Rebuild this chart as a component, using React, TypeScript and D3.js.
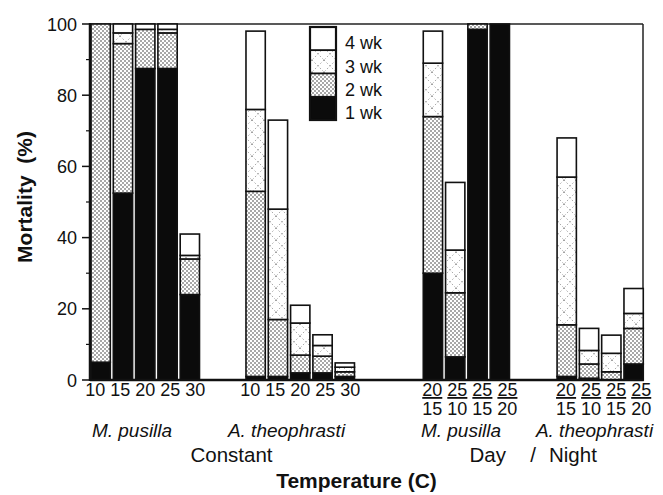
import React from "react";
import * as d3 from "d3";

// ---- data ----
const weekKeys = ["1 wk", "2 wk", "3 wk", "4 wk"];
const constantTemps = ["10", "15", "20", "25", "30"];
const dayTemps = ["20", "25", "25", "25"];
const nightTemps = ["15", "10", "15", "20"];
const speciesNames = ["M. pusilla", "A. theophrasti", "M. pusilla", "A. theophrasti"];
const regimeNames = ["Constant", "Day / Night"];
const yTicks = [0, 20, 40, 60, 80, 100];
const yMinorTicks = [10, 30, 50, 70, 90];

// order: Constant M.pusilla (10..30), Constant A.theophrasti (10..30),
// Day/Night M.pusilla (20/15,25/10,25/15,25/20), Day/Night A.theophrasti (same)
const wk1 = [5, 52.5, 87.5, 87.5, 24, 1, 1, 2, 2, 1, 30, 6.5, 98.5, 100, 1, 0.5, 0, 4.5];
const wk2 = [95, 42, 11, 10, 10, 52, 16, 5, 4.7, 1.3, 44, 18, 1.5, 0, 14.5, 4, 2.3, 10];
const wk3 = [0, 3, 0, 1, 1, 23, 31, 9, 3, 1.3, 15, 12, 0, 0, 41.5, 3.8, 5.2, 4.2];
const wk4 = [0, 2.5, 1.5, 1.5, 6, 22, 25, 5, 3, 1.2, 9, 19, 0, 0, 11, 6.2, 5.1, 7];

// ---- layout ----
const W = 663;
const H = 495;
const plot = { left: 90, right: 643, top: 24, bottom: 380 };
const groupStartSlot = [0, 6.95, 14.9, 20.9];
const groupSizes = [constantTemps.length, constantTemps.length, dayTemps.length, dayTemps.length];
const barW = 19.3;
const FONT = "'Liberation Sans', Arial, Helvetica, sans-serif";
const fills = ["#0b0b0b", "url(#pat2)", "url(#pat3)", "#ffffff"];

export default function App() {
  const y = d3.scaleLinear().domain([0, 100]).range([plot.bottom, plot.top]);
  const x = d3.scaleLinear().domain([0, 1]).range([91, 113.3]);

  const bars: { g: number; j: number; vals: number[] }[] = [];
  let k = 0;
  groupSizes.forEach((n, g) => {
    for (let j = 0; j < n; j++) {
      bars.push({ g, j, vals: [wk1[k], wk2[k], wk3[k], wk4[k]] });
      k++;
    }
  });
  const stack = d3.stack<number[]>().keys([0, 1, 2, 3] as any).value((d, key: any) => d[key]);
  const series = stack(bars.map((b) => b.vals));

  const barX = (i: number) => x(groupStartSlot[bars[i].g] + bars[i].j);

  const legendY = d3.scaleBand().domain(["4 wk", "3 wk", "2 wk", "1 wk"]).range([27, 120]);
  const legendFill: Record<string, string> = {
    [weekKeys[0]]: fills[0], [weekKeys[1]]: fills[1], [weekKeys[2]]: fills[2], [weekKeys[3]]: fills[3],
  };

  const groupCenter = (g: number) =>
    (x(groupStartSlot[g]) + x(groupStartSlot[g] + groupSizes[g] - 1) + barW) / 2;
  const speciesCenters = [132, 286.5, 461, 594.5];

  return (
    <svg width={W} height={H} style={{ position: "absolute", left: 0, top: 0, background: "#fff" }}
      fontFamily={FONT}>
      <defs>
        <pattern id="pat2" width={4} height={4} patternUnits="userSpaceOnUse">
          <rect width={4} height={4} fill="#fff" />
          <circle cx={1} cy={1} r={0.8} fill="#3a3a3a" />
          <circle cx={3} cy={3} r={0.8} fill="#3a3a3a" />
        </pattern>
        <pattern id="pat3" width={12} height={12} patternUnits="userSpaceOnUse">
          <rect width={12} height={12} fill="#fff" />
          <line x1={0} y1={0} x2={12} y2={12} stroke="#8a8a8a" strokeWidth={0.8} strokeDasharray="1.5 2.2" />
          <line x1={12} y1={0} x2={0} y2={12} stroke="#8a8a8a" strokeWidth={0.8} strokeDasharray="1.5 2.2" />
        </pattern>
      </defs>

      {/* frame */}
      <line x1={plot.left} x2={plot.right} y1={plot.top} y2={plot.top} stroke="#222" strokeWidth={1.5} />
      <line x1={plot.right} x2={plot.right} y1={plot.top} y2={plot.bottom} stroke="#222" strokeWidth={1.5} />

      {/* bars */}
      {series.map((s, si) =>
        s.map((d, i) => {
          const h = y(d[0]) - y(d[1]);
          if (h <= 0.01) return null;
          return (
            <rect key={`${si}-${i}`} x={barX(i)} y={y(d[1])} width={barW} height={h}
              fill={fills[si]} stroke="#111" strokeWidth={1.6} />
          );
        })
      )}

      {/* axes */}
      <line x1={plot.left} x2={plot.left} y1={plot.top - 1} y2={plot.bottom + 1} stroke="#111" strokeWidth={2.5} />
      <line x1={plot.left} x2={plot.right + 0.75} y1={plot.bottom} y2={plot.bottom} stroke="#111" strokeWidth={2.5} />
      {yTicks.map((t) => (
        <g key={t}>
          <line x1={plot.left - 8} x2={plot.left} y1={y(t)} y2={y(t)} stroke="#111" strokeWidth={1.5} />
          <text x={77} y={y(t) + 6.5} textAnchor="end" fontSize={18} fill="#111">{t}</text>
        </g>
      ))}
      {yMinorTicks.map((t) => (
        <line key={t} x1={plot.left - 4} x2={plot.left} y1={y(t)} y2={y(t)} stroke="#111" strokeWidth={1.2} />
      ))}

      {/* y label */}
      <text transform={`translate(32,197) rotate(-90)`} textAnchor="middle" fontSize={21} fontWeight="bold"
        fill="#111" style={{ whiteSpace: "pre" }}>
        {"Mortality  (%)"}
      </text>

      {/* x tick labels: constant groups */}
      {[0, 1].map((g) => (
        <text key={g} x={groupCenter(g)} y={396} textAnchor="middle" fontSize={18} fill="#111">
          {constantTemps.join(" ")}
        </text>
      ))}
      {/* day/night groups */}
      {[2, 3].map((g) => (
        <g key={g}>
          <text x={x(groupStartSlot[g]) - 1} y={396} textAnchor="start" fontSize={18} fill="#111">
            {dayTemps.map((t, i) => (
              <React.Fragment key={i}>
                <tspan style={{ textDecoration: "underline" }}>{t}</tspan>
                {i < dayTemps.length - 1 ? <tspan> </tspan> : null}
              </React.Fragment>
            ))}
          </text>
          <text x={x(groupStartSlot[g]) - 1} y={415} textAnchor="start" fontSize={18} fill="#111">
            {nightTemps.join(" ")}
          </text>
        </g>
      ))}

      {/* species */}
      {speciesNames.map((s, g) => (
        <text key={g} x={speciesCenters[g]} y={437} textAnchor="middle" fontSize={19} fontStyle="italic" fill="#111">
          {s}
        </text>
      ))}

      {/* regimes */}
      <text x={231.5} y={462} textAnchor="middle" fontSize={20.5} fill="#111">{regimeNames[0]}</text>
      {(() => {
        const parts = regimeNames[1].split(" / ");
        return (
          <g fontSize={20.5} fill="#111">
            <text x={506} y={462} textAnchor="end">{parts[0]}</text>
            <text x={533} y={462} textAnchor="middle">/</text>
            <text x={549} y={462} textAnchor="start">{parts[1]}</text>
          </g>
        );
      })()}

      {/* x title */}
      <text x={356.5} y={488} textAnchor="middle" fontSize={21} fontWeight="bold" fill="#111">
        Temperature (C)
      </text>

      {/* legend */}
      <g>
        {legendY.domain().map((key) => (
          <g key={key}>
            <rect x={310} y={legendY(key)} width={26} height={legendY.bandwidth()}
              fill={legendFill[key]} stroke="#111" strokeWidth={1.6} />
            <text x={345} y={(legendY(key) as number) + legendY.bandwidth() - 1} fontSize={18} fill="#111">
              {key}
            </text>
          </g>
        ))}
        <rect x={310} y={27} width={26} height={93} fill="none" stroke="#111" strokeWidth={2.2} />
      </g>
    </svg>
  );
}
